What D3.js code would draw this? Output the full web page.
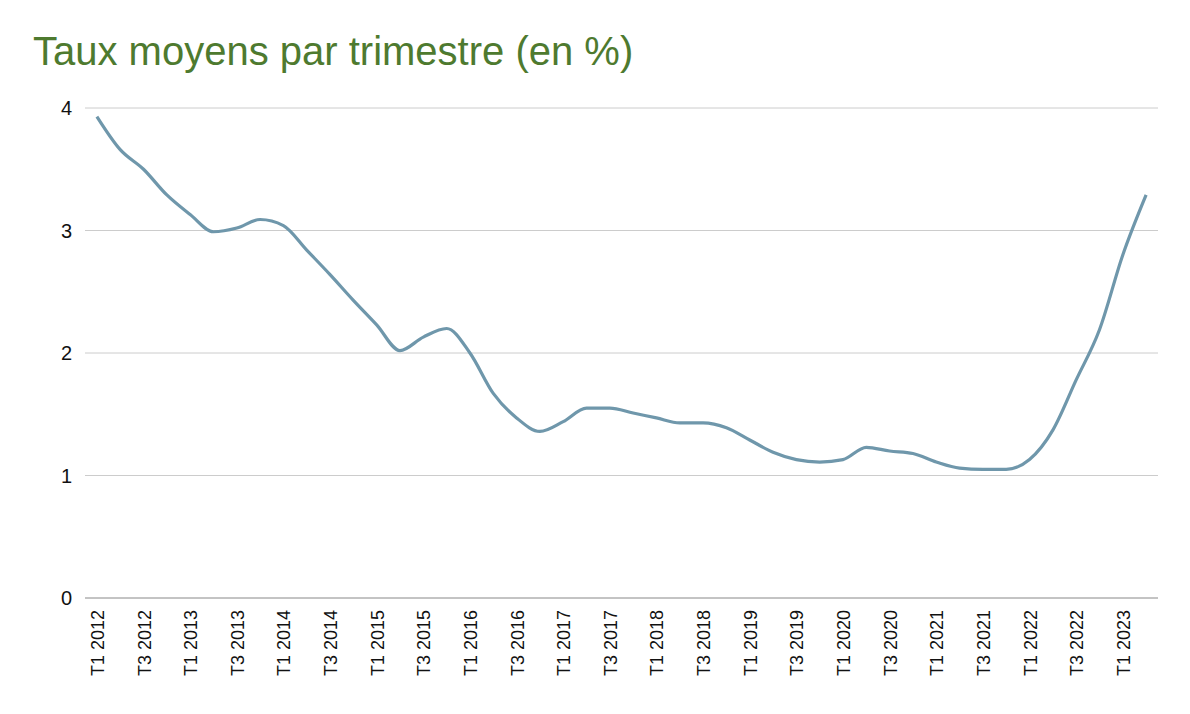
<!DOCTYPE html>
<html><head><meta charset="utf-8">
<script src="https://cdn.jsdelivr.net/npm/d3@7"></script>
<style>body{margin:0;background:#fff;font-family:Arial,"Liberation Sans",sans-serif}</style>
</head><body><div id="chart"></div>
<script>
// Quarters T1 2012 .. T2 2023
var quarters = [];
for (var yr = 2012; yr <= 2023; yr++) {
    for (var q = 1; q <= 4; q++) {
        if (yr === 2023 && q > 2) break;
        quarters.push('T' + q + ' ' + yr);
    }
}
var rates = [3.93, 3.66, 3.50, 3.29, 3.13, 2.99, 3.02, 3.09, 3.04, 2.84, 2.64, 2.43,
    2.23, 2.02, 2.13, 2.20, 2.00, 1.67, 1.47, 1.36, 1.44, 1.55, 1.55, 1.51,
    1.47, 1.43, 1.43, 1.39, 1.29, 1.19, 1.13, 1.11, 1.13, 1.23, 1.20,
    1.18, 1.11, 1.06, 1.05, 1.05, 1.13, 1.37, 1.78, 2.19, 2.80, 3.29];
var yTicks = [0, 1, 2, 3, 4];

var W = 1190, H = 714;
var margin = { top: 108, right: 32, bottom: 116, left: 85 },
    width = W - margin.left - margin.right,
    height = H - margin.top - margin.bottom;

var root = d3.select('#chart').append('svg').attr('width', W).attr('height', H);

root.append('text').attr('x', 33).attr('y', 65)
    .attr('fill', '#4e7a2f').attr('font-size', 40)
    .text('Taux moyens par trimestre (en %)');

var svg = root.append('g').attr('transform', 'translate(' + margin.left + ',' + margin.top + ')');

var x = d3.scalePoint().domain(quarters).range([0, width]).padding(0.51);
var y = d3.scaleLinear().domain([0, 4]).range([height, 0]);

// gridlines
svg.selectAll('.grid').data(yTicks).enter().append('line')
    .attr('x1', 0).attr('x2', width)
    .attr('y1', function(d) { return y(d); }).attr('y2', function(d) { return y(d); })
    .attr('stroke', function(d) { return d === 0 ? '#888' : '#ccc'; })
    .attr('stroke-width', 1);

svg.selectAll('.ylab').data(yTicks).enter().append('text')
    .attr('x', -13).attr('y', function(d) { return y(d) + 7; })
    .attr('text-anchor', 'end').attr('font-size', 20).attr('fill', '#111')
    .text(function(d) { return d; });

// x labels every 2 quarters
svg.selectAll('.xlab').data(quarters.filter(function(d, i) { return i % 2 === 0; }))
    .enter().append('text')
    .attr('transform', function(d) { return 'translate(' + (x(d) + 7) + ',' + (height + 12) + ') rotate(-90)'; })
    .attr('text-anchor', 'end').attr('font-size', 18).attr('fill', '#111')
    .text(function(d) { return d; });

var line = d3.line()
    .x(function(d, i) { return x(quarters[i]); })
    .y(function(d) { return y(d); })
    .curve(d3.curveMonotoneX);

svg.append('path').datum(rates)
    .attr('fill', 'none').attr('stroke', '#6f97ab').attr('stroke-width', 3.2)
    .attr('d', line);
</script></body></html>
